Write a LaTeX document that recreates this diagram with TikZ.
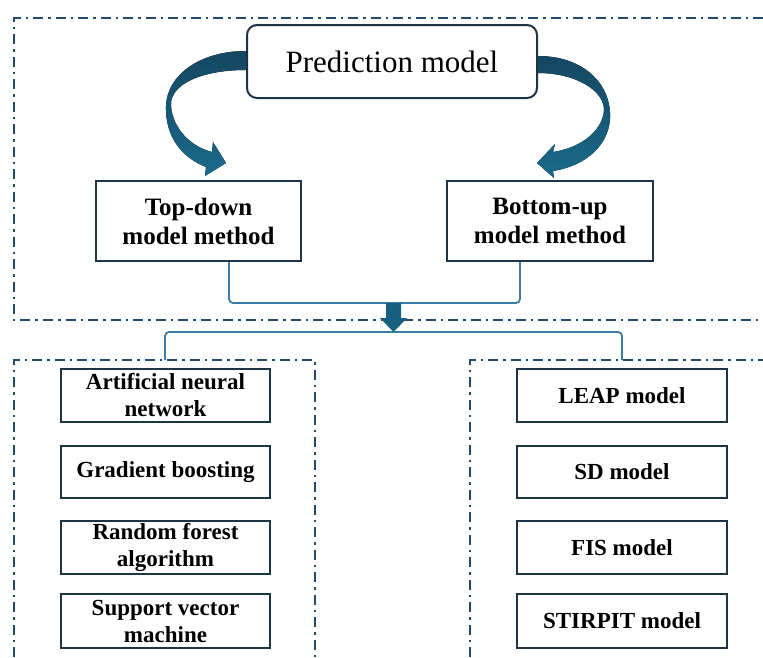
\documentclass[tikz,border=0pt]{standalone}
\usepackage{fontspec}
\setmainfont{Liberation Serif}
\definecolor{boxline}{HTML}{1E3545}
\definecolor{dashline}{HTML}{23496B}
\definecolor{conline}{HTML}{3B7EA1}
\definecolor{arrowfill}{HTML}{17607F}
\definecolor{arrowtop}{HTML}{154760}
\definecolor{arrowbot}{HTML}{1A6A8C}
\begin{document}
\begin{tikzpicture}[x=1pt,y=-1pt,
  framebox/.style={draw=dashline,line width=2.8pt,dash pattern=on 10pt off 5pt on 2.5pt off 5pt},
  predbox/.style={draw=boxline,line width=2pt,rounded corners=10pt,fill=white,minimum width=290pt,minimum height=73pt,inner sep=0pt,font=\fontsize{31}{36}\selectfont},
  methodbox/.style={draw=boxline,line width=2pt,minimum width=205pt,minimum height=80pt,inner sep=0pt,align=center,font=\fontsize{25}{29}\selectfont\bfseries},
  itembox/.style={draw=boxline,line width=2pt,minimum width=209pt,inner sep=0pt,align=center,font=\fontsize{23}{27}\selectfont\bfseries},
  connector/.style={draw=conline,line width=1.8pt,rounded corners=4pt},
  bigarrow/.style={top color=arrowtop,bottom color=arrowbot,draw=none}]
\useasboundingbox (0,0) rectangle (763,657);
% dash-dot frames
\draw[framebox] (763,18) -- (14,18) -- (14,320) -- (763,320);
\draw[framebox] (14,657) -- (14,360) -- (315,360) -- (315,657);
\draw[framebox] (470,657) -- (470,360) -- (763,360);
% nodes
\node[predbox] (pred) at (392,61.5) {Prediction model};
\node[methodbox] (td) at (198.5,221) {Top-down\\model method};
\node[methodbox,minimum width=206pt] (bu) at (550,221) {Bottom-up\\model method};
\node[itembox,minimum height=53pt] (l1) at (165.5,395.5) {Artificial neural\\network};
\node[itembox,minimum height=52pt] (l2) at (165.5,472) {Gradient boosting};
\node[itembox,minimum height=53pt] (l3) at (165.5,547.5) {Random forest\\algorithm};
\node[itembox,minimum height=54pt] (l4) at (165.5,621) {Support vector\\machine};
\node[itembox,minimum width=210pt,minimum height=53pt] (r1) at (622,395.5) {LEAP model};
\node[itembox,minimum width=210pt,minimum height=52pt] (r2) at (622,472) {SD model};
\node[itembox,minimum width=210pt,minimum height=53pt] (r3) at (622,547.5) {FIS model};
\node[itembox,minimum width=210pt,minimum height=54pt] (r4) at (622,621) {STIRPIT model};
% curved arrows
\fill[bigarrow] (pred.west |- 0,51) .. controls (200,51) and (167,75) .. (166,106)
  .. controls (165,138) and (183,158) .. (206,167) -- (205,176) -- (226,163) -- (213,142) -- (212,152)
  .. controls (185,145) and (171,122) .. (171,104)
  .. controls (171,85) and (200,70) .. (pred.west |- 0,70) -- cycle;
\fill[bigarrow] (pred.east |- 0,56) .. controls (580,56) and (608,80) .. (610,112)
  .. controls (612,145) and (585,166) .. (553,171) -- (554,178) -- (537,163) -- (555,144) -- (553,152)
  .. controls (585,147) and (603,128) .. (604,110)
  .. controls (604,90) and (575,73) .. (pred.east |- 0,73) -- cycle;
% connectors
\coordinate (j1) at (229,303);
\coordinate (j2) at (520,303);
\coordinate (j3) at (165,332);
\coordinate (j4) at (622,332);
\coordinate (d3) at (165,360);
\coordinate (d4) at (622,360);
\draw[connector] (td.south -| j1) -- (j1) -- (j2) -- (bu.south -| j2);
\draw[connector] (d3) -- (j3) -- (j4) -- (d4);
\fill[arrowfill] (386,303) -- (401,303) -- (401,318) -- (407,318) -- (393.5,332) -- (380,318) -- (386,318) -- cycle;
\end{tikzpicture}
\end{document}
